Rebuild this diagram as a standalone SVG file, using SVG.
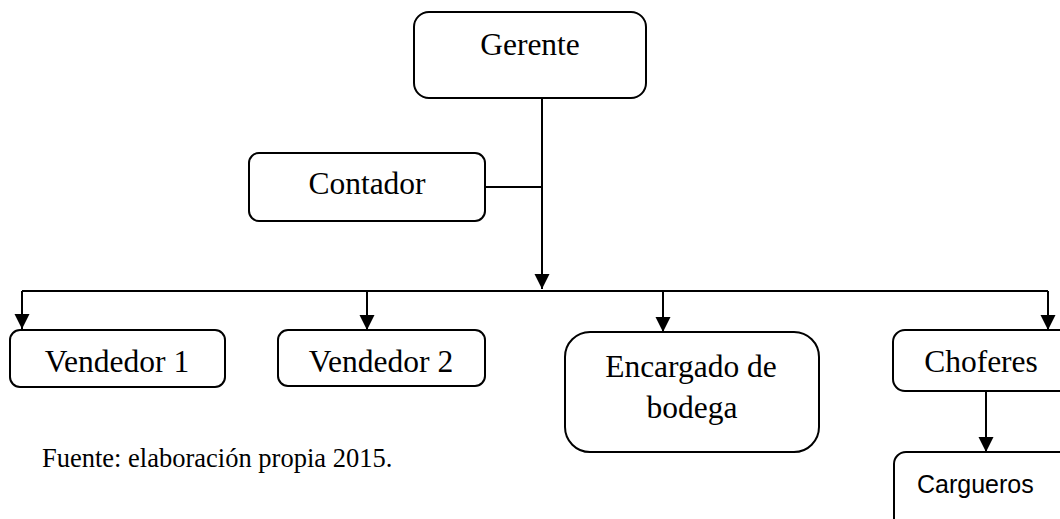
<svg xmlns="http://www.w3.org/2000/svg" width="1060" height="519" viewBox="0 0 1060 519">
<style>
.box{fill:#fff;stroke:#000;stroke-width:2}
.t{font-family:"Liberation Serif","Times New Roman",serif;font-size:31.5px;fill:#000;text-anchor:middle}
.s{font-family:"Liberation Sans",Arial,sans-serif;font-size:25px;fill:#000}
.f{font-family:"Liberation Serif","Times New Roman",serif;font-size:26.5px;fill:#000}
.ln{fill:none;stroke:#000;stroke-width:2}
</style>
<defs>
<marker id="ah" markerUnits="userSpaceOnUse" markerWidth="16" markerHeight="16" viewBox="0 0 16 16" refX="15" refY="8" orient="auto">
<path d="M0,0.5 L15,8 L0,15.5 Z" fill="#000"/>
</marker>
</defs>
<rect width="1060" height="519" fill="#fff"/>
<g id="connectors">
<path class="ln" d="M542,98 V289" marker-end="url(#ah)"/>
<path class="ln" d="M485,187 H542"/>
<path class="ln" d="M22,291 H1048"/>
<path class="ln" d="M22,291 V329" marker-end="url(#ah)"/>
<path class="ln" d="M367,291 V330" marker-end="url(#ah)"/>
<path class="ln" d="M663,291 V332" marker-end="url(#ah)"/>
<path class="ln" d="M1048,291 V330" marker-end="url(#ah)"/>
<path class="ln" d="M986,391 V452" marker-end="url(#ah)"/>
</g>
<g id="gerente">
<rect class="box" x="414" y="12" width="232" height="86" rx="15"/>
<text class="t" x="530" y="55">Gerente</text>
</g>
<g id="contador">
<rect class="box" x="249" y="153" width="236" height="68" rx="10"/>
<text class="t" x="367" y="194">Contador</text>
</g>
<g id="vendedor1">
<rect class="box" x="10" y="330" width="215" height="57" rx="10"/>
<text class="t" x="117" y="372">Vendedor 1</text>
</g>
<g id="vendedor2">
<rect class="box" x="278" y="330" width="207" height="56" rx="10"/>
<text class="t" x="381" y="372">Vendedor 2</text>
</g>
<g id="encargado">
<rect class="box" x="565" y="332" width="254" height="120" rx="25"/>
<text class="t" x="691" y="377">Encargado de</text>
<text class="t" x="692" y="418">bodega</text>
</g>
<g id="choferes">
<rect class="box" x="893" y="330" width="200" height="61" rx="12"/>
<text class="t" x="981" y="372">Choferes</text>
</g>
<g id="cargueros">
<rect class="box" x="894" y="452" width="200" height="100" rx="12"/>
<text class="s" x="917" y="493">Cargueros</text>
</g>
<text class="f" x="42" y="467">Fuente: elaboración propia 2015.</text>
</svg>
